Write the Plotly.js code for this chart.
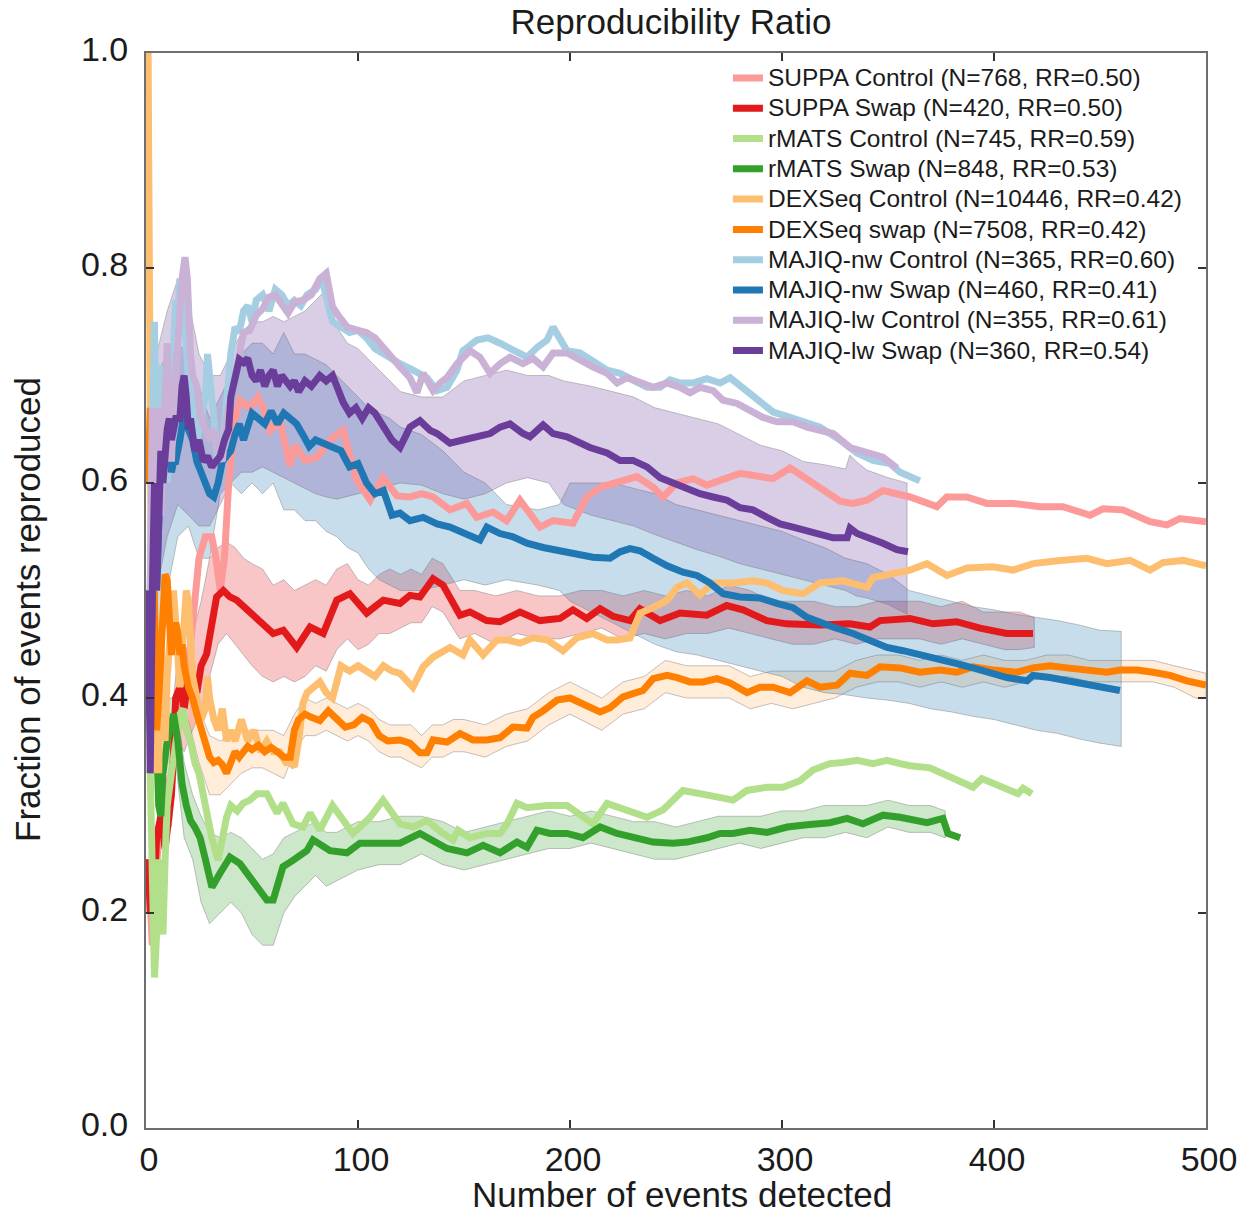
<!DOCTYPE html>
<html>
<head>
<meta charset="utf-8">
<script src="https://cdn.plot.ly/plotly-3.0.1.min.js"></script>
<style>
  html, body { margin: 0; padding: 0; background: #ffffff; }
  #chart { width: 1245px; height: 1213px; }
</style>
</head>
<body>
<div id="chart"></div>
<script>
// ---- Legend labels ----
const seriesNames = [
  'SUPPA Control (N=768, RR=0.50)',
  'SUPPA Swap (N=420, RR=0.50)',
  'rMATS Control (N=745, RR=0.59)',
  'rMATS Swap (N=848, RR=0.53)',
  'DEXSeq Control (N=10446, RR=0.42)',
  'DEXSeq swap (N=7508, RR=0.42)',
  'MAJIQ-nw Control (N=365, RR=0.60)',
  'MAJIQ-nw Swap (N=460, RR=0.41)',
  'MAJIQ-lw Control (N=355, RR=0.61)',
  'MAJIQ-lw Swap (N=360, RR=0.54)'
];

const xTicks = [0, 100, 200, 300, 400, 500];
const yTicks = [0, 0.2, 0.4, 0.6, 0.8, 1.0];

// ---- SUPPA ----
const suppaControlX = [1,2,3,4,6,9,12,15,18,21,23,25,28,31,33,35,37,39,42,44.3,49,52.8,55.2,58.5,63.2,67.9,70.3,75,80.7,86.8,92.9,99.5,105.7,111.8,118.4,124.5,130,135.4,143.4,151.3,156,163.7,170.1,176.4,185.8,192,201.4,207.9,214.2,220.3,231.5,239.2,243.9,250.3,258,264.5,270.8,280.2,289.6,295.8,303.8,309.9,317.9,327.4,333.5,340,347.6,360.4,373,377.7,387.1,396.6,409,421.7,432.5,445.3,451.4,460.8,473.6,481.6,487.7,500];
const suppaControlY = [0.25,0.2,0.17,0.22,0.27,0.31,0.33,0.37,0.40,0.45,0.50,0.53,0.55,0.55,0.53,0.50,0.53,0.60,0.66,0.677,0.670,0.680,0.670,0.649,0.658,0.616,0.635,0.621,0.624,0.640,0.649,0.602,0.584,0.605,0.588,0.587,0.590,0.587,0.575,0.581,0.568,0.573,0.565,0.584,0.559,0.565,0.5625,0.587,0.596,0.600,0.606,0.596,0.587,0.600,0.604,0.598,0.603,0.609,0.606,0.604,0.614,0.606,0.596,0.583,0.581,0.584,0.593,0.587,0.578,0.587,0.587,0.581,0.581,0.578,0.578,0.570,0.576,0.575,0.564,0.561,0.567,0.564];

const suppaSwapX = [1,2,3,4,5,7,9,11,12,13,14,16,18,20,22,24,26,28.6,31,33.3,36.5,39.6,42.8,49.1,55.3,60,64.8,71.1,77.4,83.6,90,96.2,104.1,111.9,119.8,124.5,129.2,135.4,140.1,148.1,152.8,160.7,167,176.4,185.8,195.3,201.4,207.9,214.2,220.3,228.3,233,242.5,251.9,264.5,273.9,281.6,292.8,302.2,317.9,332,341.5,346.2,360.4,371.2,382.4,393.4,406,418.4];
const suppaSwapY = [0.25,0.20,0.25,0.23,0.27,0.29,0.26,0.30,0.31,0.35,0.40,0.41,0.39,0.42,0.41,0.405,0.43,0.441,0.47,0.494,0.500,0.494,0.491,0.479,0.469,0.460,0.463,0.447,0.466,0.460,0.491,0.497,0.479,0.491,0.488,0.4955,0.494,0.511,0.505,0.477,0.480,0.472,0.471,0.480,0.472,0.474,0.482,0.474,0.483,0.476,0.472,0.483,0.472,0.479,0.477,0.486,0.482,0.472,0.469,0.468,0.469,0.466,0.472,0.474,0.469,0.471,0.465,0.460,0.460];

const suppaBandX = [12,15,18,22,26,30,34,38,42,46,50,55,60,65,70,75,80,85,90,95,100,105,110,115,120,125,130,135,140,148,155,165,175,185,195,205,215,225,235,245,255,265,275,285,295,305,315,325,335,345,355,365,375,385,395,405,412,419];
const suppaBandUpper = [0.38,0.44,0.44,0.46,0.49,0.53,0.54,0.545,0.54,0.53,0.525,0.52,0.505,0.51,0.50,0.505,0.51,0.505,0.52,0.525,0.51,0.505,0.515,0.52,0.515,0.52,0.515,0.53,0.525,0.50,0.50,0.495,0.50,0.495,0.495,0.50,0.50,0.495,0.50,0.495,0.50,0.495,0.505,0.50,0.49,0.49,0.49,0.485,0.485,0.49,0.49,0.49,0.485,0.49,0.48,0.48,0.48,0.475];
const suppaBandLower = [0.28,0.36,0.35,0.37,0.39,0.42,0.45,0.46,0.45,0.44,0.43,0.42,0.415,0.42,0.415,0.42,0.43,0.425,0.445,0.455,0.445,0.45,0.46,0.46,0.465,0.47,0.47,0.485,0.48,0.455,0.46,0.45,0.46,0.455,0.455,0.46,0.465,0.455,0.46,0.455,0.46,0.46,0.465,0.46,0.455,0.45,0.45,0.455,0.45,0.455,0.455,0.455,0.45,0.455,0.45,0.445,0.445,0.447];

// ---- rMATS ----
const rmatsControlX = [2,3,4,5,6,7,8,9,10,12,14,16,17.5,19,21,23,25,28,31,34,36,38,40,43,45.8,49,52.4,57,61.8,64.6,69.3,74,77.4,82,88,93,97.6,101,105.7,111.8,115,119.8,125.9,132.5,140.1,144.8,147.2,152.8,160.8,167,170.3,175,179.7,189.2,198.6,210.8,217.5,223.6,229.7,236.3,243.9,248.6,253.3,261.3,270.8,276.9,283.5,292.9,300.5,308.5,314.6,322.6,328.8,335.4,342.9,349.5,355.7,360.4,369.8,379.2,390.1,394.3,404.2,411.3,413.7,417.9];
const rmatsControlY = [0.33,0.25,0.14,0.18,0.25,0.22,0.18,0.25,0.30,0.33,0.36,0.385,0.39,0.37,0.36,0.34,0.33,0.30,0.27,0.249,0.27,0.289,0.30,0.295,0.302,0.305,0.311,0.311,0.293,0.302,0.283,0.280,0.293,0.277,0.300,0.285,0.274,0.28,0.289,0.305,0.295,0.283,0.280,0.286,0.274,0.268,0.277,0.270,0.274,0.274,0.283,0.302,0.298,0.300,0.300,0.283,0.302,0.298,0.293,0.289,0.296,0.305,0.314,0.311,0.308,0.305,0.314,0.317,0.317,0.323,0.333,0.339,0.340,0.342,0.339,0.342,0.339,0.337,0.335,0.326,0.317,0.325,0.317,0.311,0.316,0.311];

const rmatsSwapX = [2,3,4,5,6,7,8,10,11,13,15,17,19,21,23,25.5,28,31.1,34.9,39.6,44.3,47.6,52.4,57,60,64.6,69.3,75.9,78.8,86.8,94.8,100.9,109,119.8,129.2,135.4,142,151.4,159,167,175,179.7,184.4,190.6,198.6,206.1,214.2,222.2,229.7,239.2,248.6,255.2,264.6,270.8,276.9,284.9,292.9,302.4,311.8,322.6,330.7,338.2,347.6,355.7,368.4,375.9,378.3,384];
const rmatsSwapY = [0.33,0.40,0.43,0.36,0.30,0.29,0.33,0.36,0.37,0.385,0.36,0.32,0.30,0.286,0.28,0.270,0.25,0.224,0.237,0.252,0.246,0.237,0.224,0.212,0.212,0.243,0.249,0.258,0.268,0.258,0.256,0.265,0.265,0.265,0.274,0.268,0.260,0.256,0.263,0.256,0.266,0.261,0.277,0.274,0.274,0.270,0.280,0.274,0.270,0.266,0.265,0.266,0.270,0.274,0.274,0.277,0.275,0.280,0.282,0.284,0.288,0.283,0.291,0.289,0.284,0.288,0.274,0.270];

const rmatsBandX = [10,14,18,22,26,30,35,40,45,50,55,60,65,70,75,80,85,90,95,100,110,120,130,140,150,160,170,180,190,200,210,220,230,240,250,260,270,280,290,300,310,320,330,340,350,360,370,377];
const rmatsBandUpper = [0.40,0.40,0.34,0.31,0.29,0.275,0.27,0.275,0.27,0.26,0.25,0.255,0.27,0.275,0.28,0.285,0.275,0.275,0.28,0.285,0.285,0.29,0.29,0.285,0.275,0.28,0.285,0.29,0.295,0.29,0.295,0.29,0.285,0.285,0.28,0.285,0.29,0.29,0.29,0.295,0.295,0.30,0.30,0.30,0.305,0.30,0.30,0.295];
const rmatsBandLower = [0.33,0.34,0.27,0.25,0.21,0.19,0.20,0.21,0.20,0.18,0.17,0.17,0.20,0.215,0.225,0.235,0.225,0.23,0.235,0.24,0.245,0.245,0.255,0.245,0.24,0.245,0.25,0.255,0.26,0.26,0.265,0.26,0.255,0.25,0.25,0.255,0.26,0.265,0.26,0.265,0.27,0.27,0.275,0.27,0.28,0.275,0.275,0.27];

// ---- DEXSeq ----
const dexControlX = [1,2,3,4,5,6,7,8,9,10,11,12,13,14,15,16,17,18,19,20,21,22,24,26,28,29,30,32,34,36,38,40,42,45,48,51,54,57,60,63,66,68,70,72,74,76,79,82,85,88,92,96,100,104,108,112,116,119.8,125.9,130.7,135.4,143.4,149.5,152.8,159,165.6,170.3,176.4,182.5,189.2,196.7,203.3,210.8,217.5,222.2,228.3,233,239.2,245.8,250.5,255.2,261.3,267.5,276.9,286.3,292.9,300.5,309.9,317.9,328.8,340.1,342.9,354.2,360.4,368.4,377.8,387.3,399.5,409,418.4,431.1,443.9,453.3,464.2,473.6,479.7,489.2,500];
const dexControlY = [1.0,0.5,0.33,0.5,0.4,0.33,0.45,0.40,0.36,0.42,0.45,0.47,0.50,0.47,0.43,0.41,0.44,0.47,0.50,0.49,0.46,0.42,0.40,0.38,0.39,0.42,0.40,0.38,0.37,0.39,0.36,0.37,0.36,0.38,0.36,0.37,0.35,0.36,0.35,0.35,0.34,0.34,0.336,0.36,0.395,0.405,0.41,0.415,0.405,0.40,0.43,0.425,0.43,0.425,0.42,0.43,0.425,0.423,0.410,0.429,0.438,0.447,0.440,0.454,0.440,0.454,0.454,0.451,0.456,0.454,0.444,0.456,0.460,0.454,0.454,0.456,0.479,0.484,0.491,0.503,0.507,0.496,0.507,0.507,0.509,0.507,0.500,0.497,0.507,0.509,0.503,0.512,0.517,0.519,0.525,0.514,0.521,0.522,0.519,0.525,0.528,0.530,0.525,0.528,0.519,0.526,0.528,0.523];

const dexSwapX = [1,2,3,4,5,6,7,8,9,10,11,12,13,14,15,16,17,18,20,22,24,26,28,30,32,34,36,38,40,42,44,46,48,50,53,56,59,62,65,68,70,72,75,78,82,86,90,94,98,102,106,110,114,117,119.8,124.5,129.2,132.5,135.4,142,148.1,154.2,160.8,167,173.1,179.7,182.5,187.3,193.9,200,206.1,214.2,218.9,225,229.7,234.4,239.2,245.8,250.5,256.6,262.7,269.3,275.5,283.5,289.6,295.8,303.8,311.8,317.9,326,332.1,340.1,346.2,355.7,365.1,374.5,382.5,390.1,399.5,410.8,418.4,426.4,434.4,443.9,453.3,459.4,467.5,475,483,491,500];
const dexSwapY = [0.60,0.67,0.60,0.45,0.37,0.40,0.45,0.50,0.515,0.51,0.48,0.44,0.46,0.47,0.46,0.44,0.45,0.43,0.41,0.40,0.385,0.37,0.355,0.345,0.34,0.342,0.338,0.33,0.34,0.35,0.345,0.35,0.355,0.352,0.356,0.35,0.354,0.35,0.345,0.345,0.37,0.38,0.385,0.382,0.379,0.388,0.38,0.373,0.375,0.382,0.378,0.365,0.36,0.36,0.361,0.358,0.349,0.349,0.361,0.359,0.367,0.361,0.361,0.363,0.373,0.372,0.382,0.388,0.398,0.400,0.395,0.387,0.391,0.401,0.404,0.407,0.418,0.421,0.419,0.415,0.415,0.418,0.414,0.405,0.410,0.410,0.405,0.416,0.410,0.412,0.423,0.421,0.429,0.428,0.424,0.426,0.424,0.429,0.426,0.424,0.428,0.430,0.428,0.426,0.424,0.426,0.426,0.424,0.421,0.416,0.412];

const dexBandX = [20,25,30,35,40,45,50,55,60,65,70,75,80,85,90,95,100,105,110,115,120,125,130,135,140,145,150,160,170,180,190,200,210,215,225,235,245,255,265,275,285,295,305,315,325,335,345,355,365,375,385,395,405,415,425,435,445,455,465,475,485,495,500];
const dexBandUpper = [0.42,0.39,0.365,0.36,0.365,0.37,0.37,0.37,0.37,0.365,0.385,0.40,0.395,0.40,0.395,0.39,0.395,0.39,0.38,0.375,0.375,0.375,0.365,0.375,0.375,0.38,0.38,0.375,0.385,0.39,0.405,0.415,0.405,0.40,0.415,0.42,0.435,0.43,0.43,0.43,0.42,0.425,0.425,0.425,0.425,0.435,0.44,0.44,0.435,0.44,0.435,0.44,0.435,0.435,0.44,0.44,0.435,0.435,0.435,0.435,0.43,0.425,0.423];
const dexBandLower = [0.38,0.34,0.31,0.31,0.32,0.33,0.335,0.335,0.33,0.325,0.35,0.365,0.365,0.37,0.365,0.36,0.365,0.36,0.35,0.345,0.345,0.34,0.335,0.345,0.345,0.35,0.35,0.345,0.355,0.36,0.375,0.385,0.375,0.37,0.385,0.39,0.405,0.40,0.40,0.40,0.39,0.395,0.39,0.395,0.40,0.41,0.415,0.415,0.41,0.415,0.41,0.415,0.41,0.415,0.42,0.42,0.415,0.415,0.415,0.415,0.41,0.40,0.40];

// ---- MAJIQ-nw ----
const nwControlX = [2,3,4,5,6,7,8,9,10,11,12,13,14,15,16,17,18,19,20,22,24,26,28,29,30,32,34,36,38,40,42,44,46,48,50,52,55,58,61,64,67,70,73,76,80,83,86,88,92,96,100,104,108,112,116,119.8,125.9,132.5,137.3,142,146.7,149.5,156.1,161.3,167,173.1,179.7,184.4,189.2,192,198.6,204.7,210.8,217.5,223.6,229.7,236.3,242.5,247.2,251.9,258,264.6,270.8,275.5,281.6,289.6,295.8,303.8,311.8,317.9,327.4,335.4,342.9,350.9,355.7,365];
const nwControlY = [0.5,0.67,0.75,0.6,0.67,0.71,0.62,0.67,0.6,0.64,0.67,0.73,0.77,0.76,0.79,0.78,0.75,0.72,0.70,0.67,0.64,0.66,0.68,0.72,0.70,0.66,0.62,0.63,0.68,0.72,0.745,0.74,0.76,0.765,0.75,0.77,0.775,0.76,0.78,0.775,0.765,0.77,0.765,0.775,0.78,0.79,0.765,0.75,0.745,0.74,0.742,0.735,0.725,0.72,0.715,0.711,0.705,0.698,0.686,0.689,0.705,0.723,0.733,0.735,0.730,0.723,0.717,0.726,0.733,0.745,0.723,0.721,0.714,0.705,0.702,0.696,0.689,0.689,0.696,0.693,0.693,0.697,0.693,0.698,0.689,0.677,0.666,0.661,0.655,0.652,0.640,0.628,0.621,0.618,0.610,0.602];

const nwSwapX = [1,2,3,4,5,6,7,8,9,10,11,12,13,14,16,18,20,22,24,26,28,30,32,34,36,38,40,42,44,46,48,50,53,56,59,62,65,68,71,74,77,80,84,88,92,96,100,104,108,112,116,119.8,124.5,130.7,137.3,143.4,151.4,157.5,160.8,167,173.1,179.7,187.3,195.3,203.3,210.8,218.9,223.6,228.3,233,239.2,245.8,253.3,259.9,266,272.2,280.2,289.6,297.6,305.2,311.8,317.9,324,333.5,342.9,349.5,357.1,366.5,374.5,382.5,390.1,398.1,406.1,415.6,418.4,426.4,434.4,443.9,451.4,459.4];
const nwSwapY = [0.5,0.4,0.5,0.6,0.5,0.57,0.62,0.61,0.64,0.655,0.63,0.61,0.62,0.62,0.64,0.665,0.65,0.64,0.62,0.61,0.60,0.59,0.587,0.60,0.62,0.625,0.63,0.645,0.655,0.64,0.655,0.665,0.66,0.655,0.667,0.655,0.665,0.66,0.655,0.645,0.634,0.64,0.637,0.634,0.63,0.615,0.618,0.60,0.59,0.593,0.57,0.572,0.565,0.568,0.562,0.559,0.553,0.547,0.559,0.553,0.550,0.544,0.540,0.537,0.535,0.531,0.530,0.536,0.539,0.537,0.530,0.523,0.517,0.514,0.507,0.497,0.494,0.493,0.488,0.484,0.475,0.470,0.466,0.460,0.453,0.447,0.444,0.440,0.437,0.432,0.428,0.424,0.419,0.416,0.421,0.419,0.416,0.414,0.410,0.407];

const nwBandX = [3,5,10,15,20,25,30,35,40,45,50,55,60,65,70,75,80,85,90,95,100,105,110,115,120,130,140,150,160,170,185,195,200,210,220,230,240,250,260,270,280,290,300,310,320,330,340,350,360,370,380,390,400,410,420,430,440,450,460];
const nwBandUpper = [0.62,0.70,0.72,0.73,0.72,0.69,0.66,0.68,0.70,0.72,0.73,0.73,0.72,0.74,0.72,0.72,0.715,0.71,0.70,0.69,0.68,0.67,0.665,0.66,0.652,0.645,0.63,0.61,0.60,0.58,0.575,0.58,0.60,0.60,0.60,0.595,0.59,0.58,0.575,0.57,0.565,0.56,0.555,0.547,0.54,0.53,0.525,0.515,0.50,0.495,0.49,0.485,0.482,0.478,0.475,0.472,0.468,0.463,0.462];
const nwBandLower = [0.40,0.45,0.50,0.55,0.56,0.53,0.53,0.59,0.60,0.59,0.60,0.59,0.60,0.575,0.575,0.565,0.565,0.555,0.55,0.54,0.535,0.52,0.51,0.505,0.50,0.50,0.505,0.51,0.505,0.51,0.505,0.50,0.49,0.48,0.47,0.46,0.45,0.443,0.44,0.435,0.43,0.425,0.42,0.41,0.405,0.403,0.40,0.398,0.395,0.39,0.387,0.383,0.38,0.375,0.37,0.367,0.362,0.358,0.355];

// ---- MAJIQ-lw ----
const lwControlX = [2,3,4,5,6,7,8,9,10,11,12,13,14,15,16,17,18.4,19.5,20,21,22,24,26,28,30,32,34,36,38,40,42,44,46,49,52,55,58,61,64,67,70,74,78,82,85,88,91,95,100,104,108,112,116,119.8,124.5,127.8,130.7,135.4,138.7,142,146.7,152.8,157.5,162.3,167,171.7,177.8,182.5,187.3,192,198.6,204.7,210.8,217.5,222.2,226.9,233,239.2,245.8,251.9,256.6,261.3,267.5,272.2,278.8,284.9,291,297.6,305.2,311.8,317.9,324.1,332.1,340.1,347.6,354.2];
const lwControlY = [0.5,0.67,0.5,0.6,0.67,0.57,0.62,0.70,0.73,0.67,0.62,0.67,0.71,0.73,0.76,0.79,0.81,0.79,0.75,0.72,0.70,0.69,0.66,0.65,0.64,0.65,0.63,0.62,0.66,0.68,0.70,0.72,0.74,0.742,0.756,0.762,0.773,0.775,0.765,0.758,0.768,0.770,0.775,0.790,0.795,0.764,0.755,0.745,0.742,0.74,0.735,0.725,0.715,0.708,0.698,0.684,0.702,0.686,0.693,0.698,0.711,0.723,0.717,0.702,0.711,0.717,0.711,0.716,0.708,0.721,0.721,0.714,0.708,0.702,0.693,0.698,0.693,0.689,0.693,0.689,0.684,0.689,0.686,0.677,0.674,0.668,0.661,0.657,0.657,0.652,0.649,0.646,0.633,0.628,0.624,0.614];

const lwSwapX = [1,2,3,4,5,6,7,8,9,10,11,12,14,16,17,18,19,20,21,23,25,27,29,31,33,35,37,39,40,42,44,46,48,50,52,54,56,58,60,62,64,66,68,70,72,75,78,80,82,85,88,90,93,96,99,102,105,108,111,114,116,119.8,124.5,129.2,134,137.3,143.4,149.5,156.1,162.3,167,171.7,177.8,181.1,187.3,192,198.6,203.3,209.4,217.5,223.6,229.7,236.3,242.5,248.6,255.2,261.3,267.5,274.1,280.2,286.3,292.9,299.1,305.2,311.8,317.9,324.1,330.7,332.1,335.4,341.5,347.6,354.2,359.4];
const lwSwapY = [0.5,0.33,0.5,0.6,0.5,0.57,0.63,0.6,0.64,0.65,0.66,0.64,0.66,0.66,0.69,0.70,0.68,0.65,0.66,0.63,0.64,0.62,0.625,0.615,0.62,0.625,0.64,0.65,0.68,0.70,0.715,0.712,0.716,0.70,0.695,0.705,0.69,0.70,0.705,0.69,0.70,0.695,0.69,0.695,0.685,0.695,0.69,0.695,0.70,0.695,0.70,0.69,0.675,0.665,0.67,0.66,0.67,0.665,0.655,0.645,0.64,0.633,0.652,0.658,0.649,0.646,0.637,0.640,0.643,0.646,0.652,0.655,0.646,0.643,0.654,0.646,0.643,0.638,0.633,0.628,0.621,0.621,0.615,0.605,0.600,0.596,0.590,0.587,0.584,0.577,0.575,0.568,0.562,0.559,0.556,0.553,0.549,0.549,0.558,0.553,0.549,0.544,0.538,0.536];

const lwBandX = [3,5,10,15,20,25,30,35,40,45,50,55,60,65,70,75,80,85,90,95,100,110,120,130,140,150,160,170,180,190,197,210,220,230,240,250,260,270,280,290,300,310,320,330,332,335,340,350,359];
const lwBandUpper = [0.65,0.72,0.76,0.79,0.77,0.72,0.70,0.70,0.72,0.74,0.75,0.75,0.755,0.75,0.755,0.76,0.77,0.78,0.745,0.73,0.725,0.705,0.685,0.68,0.68,0.695,0.70,0.705,0.70,0.70,0.695,0.69,0.685,0.68,0.67,0.665,0.66,0.655,0.645,0.635,0.63,0.62,0.617,0.613,0.626,0.62,0.612,0.605,0.60];
const lwBandLower = [0.45,0.50,0.55,0.58,0.57,0.56,0.56,0.58,0.60,0.61,0.61,0.615,0.61,0.605,0.60,0.595,0.59,0.587,0.585,0.587,0.59,0.595,0.60,0.598,0.59,0.585,0.59,0.60,0.605,0.60,0.58,0.57,0.565,0.56,0.552,0.545,0.538,0.532,0.525,0.52,0.515,0.51,0.505,0.50,0.498,0.495,0.493,0.487,0.478];

// ---- Styling ----
const FONT = 'Liberation Sans, Arial, Helvetica, sans-serif';
const TEXT = '#1b1b1b';

function band(x, upper, lower, fill) {
  return {
    type: 'scatter', mode: 'lines',
    x: x.concat(x.slice().reverse()),
    y: upper.concat(lower.slice().reverse()),
    fill: 'toself', fillcolor: fill,
    line: { color: 'rgba(120,120,120,0.55)', width: 0.8 },
    showlegend: false, hoverinfo: 'skip'
  };
}

function series(x, y, name, color) {
  return {
    type: 'scatter', mode: 'lines', x: x, y: y,
    name: '<span style="font-size:24.5px">' + name + '</span>',
    line: { color: color, width: 7 },
    hoverinfo: 'skip'
  };
}

const traces = [
  band(suppaBandX, suppaBandUpper, suppaBandLower, 'rgba(227,26,28,0.25)'),
  band(rmatsBandX, rmatsBandUpper, rmatsBandLower, 'rgba(51,160,44,0.25)'),
  band(dexBandX, dexBandUpper, dexBandLower, 'rgba(255,127,0,0.15)'),
  band(nwBandX, nwBandUpper, nwBandLower, 'rgba(31,120,180,0.25)'),
  band(lwBandX, lwBandUpper, lwBandLower, 'rgba(106,61,154,0.25)'),
  series(suppaControlX, suppaControlY, seriesNames[0], '#fb9a99'),
  series(suppaSwapX, suppaSwapY, seriesNames[1], '#e31a1c'),
  series(rmatsControlX, rmatsControlY, seriesNames[2], '#b2df8a'),
  series(rmatsSwapX, rmatsSwapY, seriesNames[3], '#33a02c'),
  series(dexControlX, dexControlY, seriesNames[4], '#fdbf6f'),
  series(dexSwapX, dexSwapY, seriesNames[5], '#ff7f00'),
  series(nwControlX, nwControlY, seriesNames[6], '#a6cee3'),
  series(nwSwapX, nwSwapY, seriesNames[7], '#1f78b4'),
  series(lwControlX, lwControlY, seriesNames[8], '#cab2d6'),
  series(lwSwapX, lwSwapY, seriesNames[9], '#6a3d9a')
];

const axisCommon = {
  showgrid: false, zeroline: false,
  showline: true, linecolor: '#6e6e6e', linewidth: 2, mirror: 'ticks',
  ticks: 'inside', ticklen: 8, tickwidth: 1.5, tickcolor: '#333333',
  tickfont: { family: FONT, size: 34, color: TEXT }
};

const layout = {
  width: 1245, height: 1213,
  margin: { l: 146, r: 39, t: 53, b: 85 },
  paper_bgcolor: '#ffffff', plot_bgcolor: '#ffffff',
  font: { family: FONT, color: TEXT },
  title: {
    text: 'Reproducibility Ratio',
    font: { family: FONT, size: 35, color: TEXT },
    x: 0.539, xref: 'container', xanchor: 'center',
    y: 0.982, yref: 'container', yanchor: 'middle'
  },
  xaxis: Object.assign({}, axisCommon, {
    range: [0, 500], tickvals: xTicks, ticktext: xTicks.map(String),
    ticklabelshift: 3
  }),
  yaxis: Object.assign({}, axisCommon, {
    range: [0, 1], tickvals: yTicks, ticktext: yTicks.map(v => v.toFixed(1)),
    ticklabelshift: -4, ticklabelstandoff: 9
  }),
  legend: {
    x: 0.549, xanchor: 'left', y: 0.9956, yanchor: 'top',
    bgcolor: 'rgba(0,0,0,0)', borderwidth: 0,
    font: { family: FONT, size: 21, color: TEXT },
    tracegroupgap: 0
  },
  annotations: [
    {
      text: 'Number of events detected', xref: 'paper', yref: 'paper',
      x: 0.5057, y: -0.0614, xanchor: 'center', yanchor: 'middle',
      showarrow: false, font: { family: FONT, size: 35, color: TEXT }
    },
    {
      text: 'Fraction of events reproduced', xref: 'paper', yref: 'paper',
      x: -0.1113, y: 0.4819, xanchor: 'center', yanchor: 'middle', textangle: -90,
      showarrow: false, font: { family: FONT, size: 35, color: TEXT }
    }
  ],
  showlegend: true,
  hovermode: false
};

Plotly.newPlot('chart', traces, layout, { displayModeBar: false, staticPlot: true });
</script>
</body>
</html>
